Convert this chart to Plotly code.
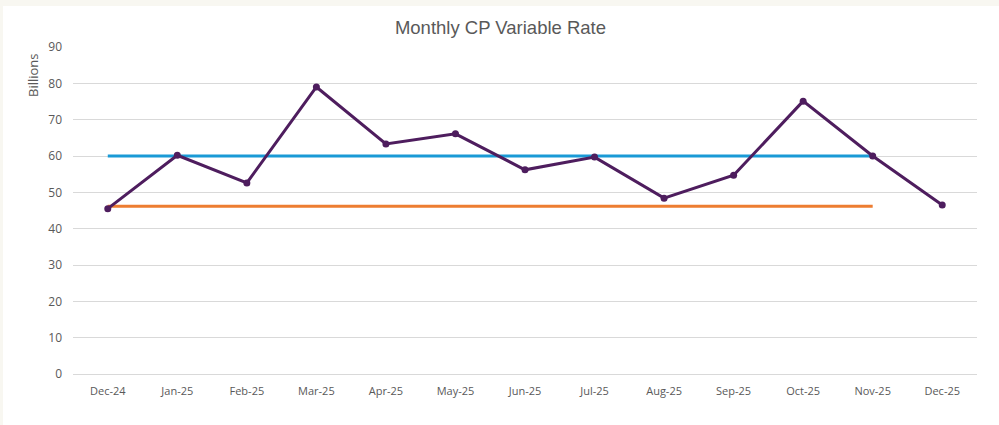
import plotly.graph_objects as go

months = ["Dec-24", "Jan-25", "Feb-25", "Mar-25", "Apr-25", "May-25", "Jun-25",
          "Jul-25", "Aug-25", "Sep-25", "Oct-25", "Nov-25", "Dec-25"]
rate = [45.5, 60.2, 52.6, 79.0, 63.3, 66.1, 56.2, 59.7, 48.4, 54.7, 75.1, 60.0, 46.5]
upper_months = months[:12]
upper_level = [60.0] * 12
lower_months = months[:12]
lower_level = [46.2] * 12
y_ticks = [0, 10, 20, 30, 40, 50, 60, 70, 80, 90]

W, H = 999, 425
L, R, T, B = 73, 22, 47, 51
pw, ph = W - L - R, H - T - B

def px_x(p):
    return (p - L) / pw

def px_y(p):
    return (H - B - p) / ph

fig = go.Figure()
fig.add_trace(go.Scatter(x=upper_months, y=upper_level, mode="lines",
                         line=dict(color="#1a9ad6", width=3), hoverinfo="skip"))
fig.add_trace(go.Scatter(x=lower_months, y=lower_level, mode="lines",
                         line=dict(color="#ed7d31", width=3), hoverinfo="skip"))
fig.add_trace(go.Scatter(x=months, y=rate, mode="lines+markers",
                         line=dict(color="#4e1d5e", width=3),
                         marker=dict(color="#4e1d5e", size=7)))

fig.update_layout(
    width=W, height=H,
    margin=dict(l=L, r=R, t=T, b=B),
    paper_bgcolor="white", plot_bgcolor="white",
    showlegend=False,
    title=dict(text="Monthly CP Variable Rate", x=0.501, xanchor="center",
               y=1 - 28 / H, yanchor="middle",
               font=dict(family="Liberation Sans, Arial", size=18.5, color="#595959")),
    font=dict(family="Open Sans, Noto Sans, sans-serif", size=11, color="#595959"),
    xaxis=dict(type="category", categoryorder="array", categoryarray=months,
               range=[-0.5, 12.5], showgrid=False, showline=False, zeroline=False,
               ticks="", ticklabelstandoff=9, fixedrange=True),
    yaxis=dict(range=[0, 90], tickvals=y_ticks, showgrid=True, gridcolor="#d9d9d9",
               gridwidth=1, zeroline=True, zerolinecolor="#d9d9d9", zerolinewidth=1,
               showline=False, ticks="", ticklabelstandoff=10, tickfont=dict(size=12),
               fixedrange=True),
    annotations=[dict(text="Billions", textangle=-90, x=px_x(33), y=px_y(75),
                      xref="paper", yref="paper", xanchor="center", yanchor="middle",
                      showarrow=False, font=dict(size=13, color="#595959"))],
    shapes=[
        dict(type="rect", xref="paper", yref="paper", x0=px_x(0), x1=px_x(W),
             y0=px_y(0), y1=px_y(6), fillcolor="#f8f7f1", line=dict(width=0), layer="below"),
        dict(type="rect", xref="paper", yref="paper", x0=px_x(0), x1=px_x(3),
             y0=px_y(0), y1=px_y(H), fillcolor="#f8f7f1", line=dict(width=0), layer="below"),
    ],
)

fig.write_html("out.html", config={"displayModeBar": False},
               post_script="document.body.style.margin='0';document.body.style.overflow='hidden';")
